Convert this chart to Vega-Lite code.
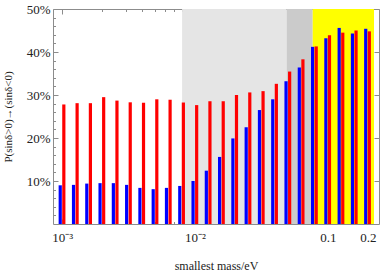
{
  "$schema": "https://vega.github.io/schema/vega-lite/v6.json",
  "width": 326,
  "height": 215,
  "autosize": {"type": "none"},
  "padding": {"left": 53, "top": 9, "right": 3, "bottom": 48},
  "background": "white",
  "config": {
    "font": "Liberation Serif",
    "view": {"stroke": null},
    "axis": {
      "grid": false,
      "domainColor": "#8c8c8c",
      "tickColor": "#8c8c8c",
      "labelFont": "Liberation Serif",
      "titleFont": "Liberation Serif",
      "labelFontSize": 12,
      "titleFontSize": 12,
      "labelColor": "#222",
      "titleColor": "#222",
      "titleFontWeight": "normal"
    }
  },
  "datasets": {
    "bars": [
      {"mass": 0.001, "blue": 9.0, "red": 27.8},
      {"mass": 0.001259, "blue": 9.1, "red": 28.1},
      {"mass": 0.001585, "blue": 9.4, "red": 28.1},
      {"mass": 0.001995, "blue": 9.5, "red": 29.5},
      {"mass": 0.002512, "blue": 9.5, "red": 28.7},
      {"mass": 0.003162, "blue": 9.1, "red": 28.3},
      {"mass": 0.003981, "blue": 8.4, "red": 28.2},
      {"mass": 0.005012, "blue": 8.1, "red": 29.0},
      {"mass": 0.00631, "blue": 8.4, "red": 28.9},
      {"mass": 0.007943, "blue": 8.85, "red": 28.25},
      {"mass": 0.01, "blue": 10.0, "red": 27.65},
      {"mass": 0.01259, "blue": 12.4, "red": 28.55},
      {"mass": 0.01585, "blue": 15.6, "red": 28.55},
      {"mass": 0.01995, "blue": 19.9, "red": 30.0},
      {"mass": 0.02512, "blue": 22.5, "red": 30.6},
      {"mass": 0.03162, "blue": 26.5, "red": 30.9},
      {"mass": 0.03981, "blue": 29.0, "red": 32.6},
      {"mass": 0.05012, "blue": 33.2, "red": 35.45},
      {"mass": 0.0631, "blue": 36.4, "red": 38.3},
      {"mass": 0.07943, "blue": 41.2, "red": 41.3},
      {"mass": 0.1, "blue": 43.2, "red": 43.9},
      {"mass": 0.1259, "blue": 45.6, "red": 44.5},
      {"mass": 0.1585, "blue": 44.3, "red": 45.0},
      {"mass": 0.1995, "blue": 45.4, "red": 44.8}
    ],
    "zones": [
      {"start": 0.008, "end": 0.049, "zone": "light"},
      {"start": 0.049, "end": 0.077, "zone": "dark"},
      {"start": 0.077, "end": 0.2228, "zone": "yellow"}
    ]
  },
  "resolve": {"axis": {"x": "independent", "y": "independent"}},
  "layer": [
    {
      "data": {"name": "zones"},
      "mark": {"type": "rect", "clip": true},
      "encoding": {
        "x": {
          "field": "start", "type": "quantitative",
          "scale": {"type": "log", "domain": [0.000931, 0.2228], "nice": false},
          "axis": {
            "orient": "bottom",
            "values": [0.001, 0.01, 0.1, 0.2],
            "labelExpr": "datum.value < 0.005 ? '10⁻³' : datum.value < 0.05 ? '10⁻²' : format(datum.value, '.1f')",
            "tickSize": -5,
            "labelPadding": 12,
            "labelFontSize": 13,
            "title": "smallest mass/eV",
            "titlePadding": 16
          }
        },
        "x2": {"field": "end"},
        "color": {
          "field": "zone", "type": "nominal",
          "scale": {"domain": ["light", "dark", "yellow"], "range": ["#e5e5e5", "#cbcbcb", "#ffff00"]},
          "legend": null
        }
      }
    },
    {
      "data": {"name": "bars"},
      "mark": {"type": "bar", "width": 3.2, "xOffset": -1.9, "color": "#0000ff"},
      "encoding": {
        "x": {"field": "mass", "type": "quantitative", "axis": {
          "orient": "bottom",
          "values": [0.002, 0.003, 0.004, 0.005, 0.006, 0.007, 0.008, 0.009, 0.02, 0.03, 0.04, 0.05, 0.06, 0.07, 0.08, 0.09],
          "labels": false, "domain": false, "tickSize": -2.5, "title": null
        }},
        "y": {
          "field": "blue", "type": "quantitative",
          "scale": {"domain": [0, 50], "nice": false},
          "axis": {
            "orient": "left",
            "values": [10, 20, 30, 40, 50],
            "labelExpr": "datum.value + '%'",
            "tickSize": -5,
            "labelPadding": 8,
            "labelFontSize": 13,
            "title": "P(sinδ>0)→(sinδ<0)",
            "titleFontSize": 11,
            "titlePadding": 13
          }
        }
      }
    },
    {
      "data": {"name": "bars"},
      "mark": {"type": "bar", "width": 3.2, "xOffset": 1.7, "color": "#ff0000"},
      "encoding": {
        "x": {"field": "mass", "type": "quantitative", "axis": {
          "orient": "top",
          "values": [0.001, 0.01, 0.1, 0.2],
          "labels": false, "tickSize": -5, "title": null
        }},
        "y": {"field": "red", "type": "quantitative", "axis": {
          "orient": "left",
          "values": [2, 4, 6, 8, 12, 14, 16, 18, 22, 24, 26, 28, 32, 34, 36, 38, 42, 44, 46, 48],
          "labels": false, "domain": false, "tickSize": -2.5, "title": null
        }}
      }
    },
    {
      "data": {"name": "bars"},
      "mark": {"type": "bar", "opacity": 0},
      "encoding": {
        "x": {"field": "mass", "type": "quantitative", "axis": {
          "orient": "top",
          "values": [0.002, 0.003, 0.004, 0.005, 0.006, 0.007, 0.008, 0.009, 0.02, 0.03, 0.04, 0.05, 0.06, 0.07, 0.08, 0.09],
          "labels": false, "domain": false, "tickSize": -2.5, "title": null
        }},
        "y": {"field": "red", "type": "quantitative", "axis": {
          "orient": "right",
          "values": [10, 20, 30, 40, 50],
          "labels": false, "tickSize": -5, "title": null
        }}
      }
    }
  ]
}
